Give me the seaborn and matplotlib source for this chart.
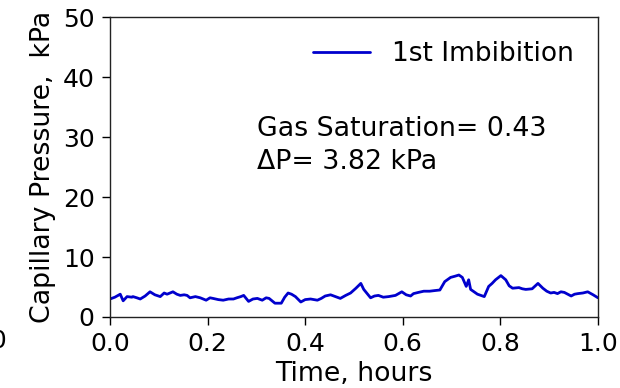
import numpy as np
import pandas as pd
import matplotlib
matplotlib.use("Agg")
import matplotlib.pyplot as plt
import seaborn as sns

# Capillary pressure record during the first imbibition
time_hours = [
    0.000, 0.010, 0.021, 0.027, 0.035, 0.045, 0.047, 0.055, 0.062, 0.072,
    0.082, 0.092, 0.103, 0.111, 0.117, 0.123, 0.129, 0.137, 0.144, 0.152,
    0.158, 0.164, 0.175, 0.185, 0.197, 0.205, 0.211, 0.222, 0.232, 0.243,
    0.253, 0.260, 0.268, 0.274, 0.284, 0.293, 0.302, 0.312, 0.320, 0.326,
    0.338, 0.351, 0.358, 0.365, 0.372, 0.380, 0.391, 0.400, 0.411, 0.425,
    0.433, 0.441, 0.452, 0.462, 0.472, 0.483, 0.493, 0.504, 0.514, 0.520,
    0.534, 0.542, 0.550, 0.560, 0.571, 0.585, 0.598, 0.607, 0.616, 0.622,
    0.632, 0.643, 0.655, 0.665, 0.676, 0.686, 0.698, 0.707, 0.715, 0.722,
    0.730, 0.735, 0.739, 0.746, 0.753, 0.767, 0.776, 0.783, 0.790, 0.801,
    0.811, 0.818, 0.825, 0.838, 0.845, 0.852, 0.865, 0.877, 0.887, 0.895,
    0.903, 0.910, 0.917, 0.924, 0.931, 0.945, 0.952, 0.959, 0.969, 0.979,
    0.990, 1.000,
]
pressure_kpa = [
    3.0, 3.3, 3.8, 2.7, 3.4, 3.3, 3.4, 3.2, 3.0, 3.5,
    4.2, 3.7, 3.4, 4.0, 3.8, 4.0, 4.2, 3.8, 3.6, 3.7,
    3.6, 3.2, 3.4, 3.2, 2.8, 3.2, 3.1, 2.9, 2.8, 3.0,
    3.0, 3.2, 3.4, 3.6, 2.6, 3.0, 3.1, 2.8, 3.2, 3.1,
    2.3, 2.3, 3.3, 4.0, 3.8, 3.4, 2.5, 2.9, 3.0, 2.8,
    3.1, 3.5, 3.7, 3.4, 3.1, 3.6, 4.0, 4.8, 5.6, 4.6,
    3.2, 3.5, 3.6, 3.3, 3.4, 3.6, 4.2, 3.7, 3.5, 3.9,
    4.1, 4.3, 4.3, 4.4, 4.5, 5.9, 6.6, 6.8, 7.0, 6.6,
    5.1, 6.2, 4.6, 4.2, 3.8, 3.4, 5.1, 5.6, 6.2, 6.9,
    6.2, 5.2, 4.8, 4.9, 4.7, 4.6, 4.7, 5.6, 4.8, 4.3,
    4.0, 4.1, 3.9, 4.2, 4.1, 3.5, 3.8, 3.9, 4.0, 4.2,
    3.7, 3.2,
]
series_label = "1st Imbibition"
gas_saturation = 0.43
delta_p = 3.82

x_ticks = [0.0, 0.2, 0.4, 0.6, 0.8, 1.0]
y_ticks = [0, 10, 20, 30, 40, 50]

sns.set_style("ticks")
plt.rcParams["font.family"] = ["DejaVu Sans"]
plt.rcParams["text.color"] = "black"
plt.rcParams["axes.labelcolor"] = "black"
plt.rcParams["xtick.color"] = "black"
plt.rcParams["ytick.color"] = "black"

df = pd.DataFrame({"time": time_hours, "pressure": pressure_kpa})

fig = plt.figure(figsize=(6.2, 3.88), dpi=100)
ax = fig.add_axes([0.1774, 0.183, 0.7871, 0.773])

sns.lineplot(data=df, x="time", y="pressure", color="mediumblue",
             linewidth=2.0, label=series_label, ax=ax)

ax.set_xlim(0, 1)
ax.set_ylim(0, 50)
ax.set_xticks(x_ticks)
ax.set_yticks(y_ticks)
ax.set_xticklabels([f"{v:.1f}" for v in x_ticks])
ax.set_yticklabels([str(v) for v in y_ticks])
ax.tick_params(labelsize=18, length=6, width=1.0, pad=5)
for side in ["left", "right", "top", "bottom"]:
    ax.spines[side].set_visible(True)
    ax.spines[side].set_color("#222222")
    ax.spines[side].set_linewidth(1.0)

ax.set_xlabel("Time, hours", fontsize=19.3, labelpad=3.5)
ax.set_ylabel("Capillary Pressure,  kPa", fontsize=19.3, labelpad=5)

leg = ax.legend(loc="upper right", frameon=False, fontsize=19,
                handlelength=2.16, handletextpad=0.83,
                borderaxespad=0.5)

ax.text(0.301, 0.572, f"Gas Saturation= {gas_saturation:.2f}\nΔP= {delta_p:.2f} kPa",
        transform=ax.transAxes, fontsize=19.3, va="center", ha="left",
        linespacing=1.35)

# edge of the neighbouring panel's tick label
fig.text(7 / 620, 1 - 341 / 388, "1.0", fontsize=18, ha="right", va="center")

fig.savefig("out.png", dpi=100)
